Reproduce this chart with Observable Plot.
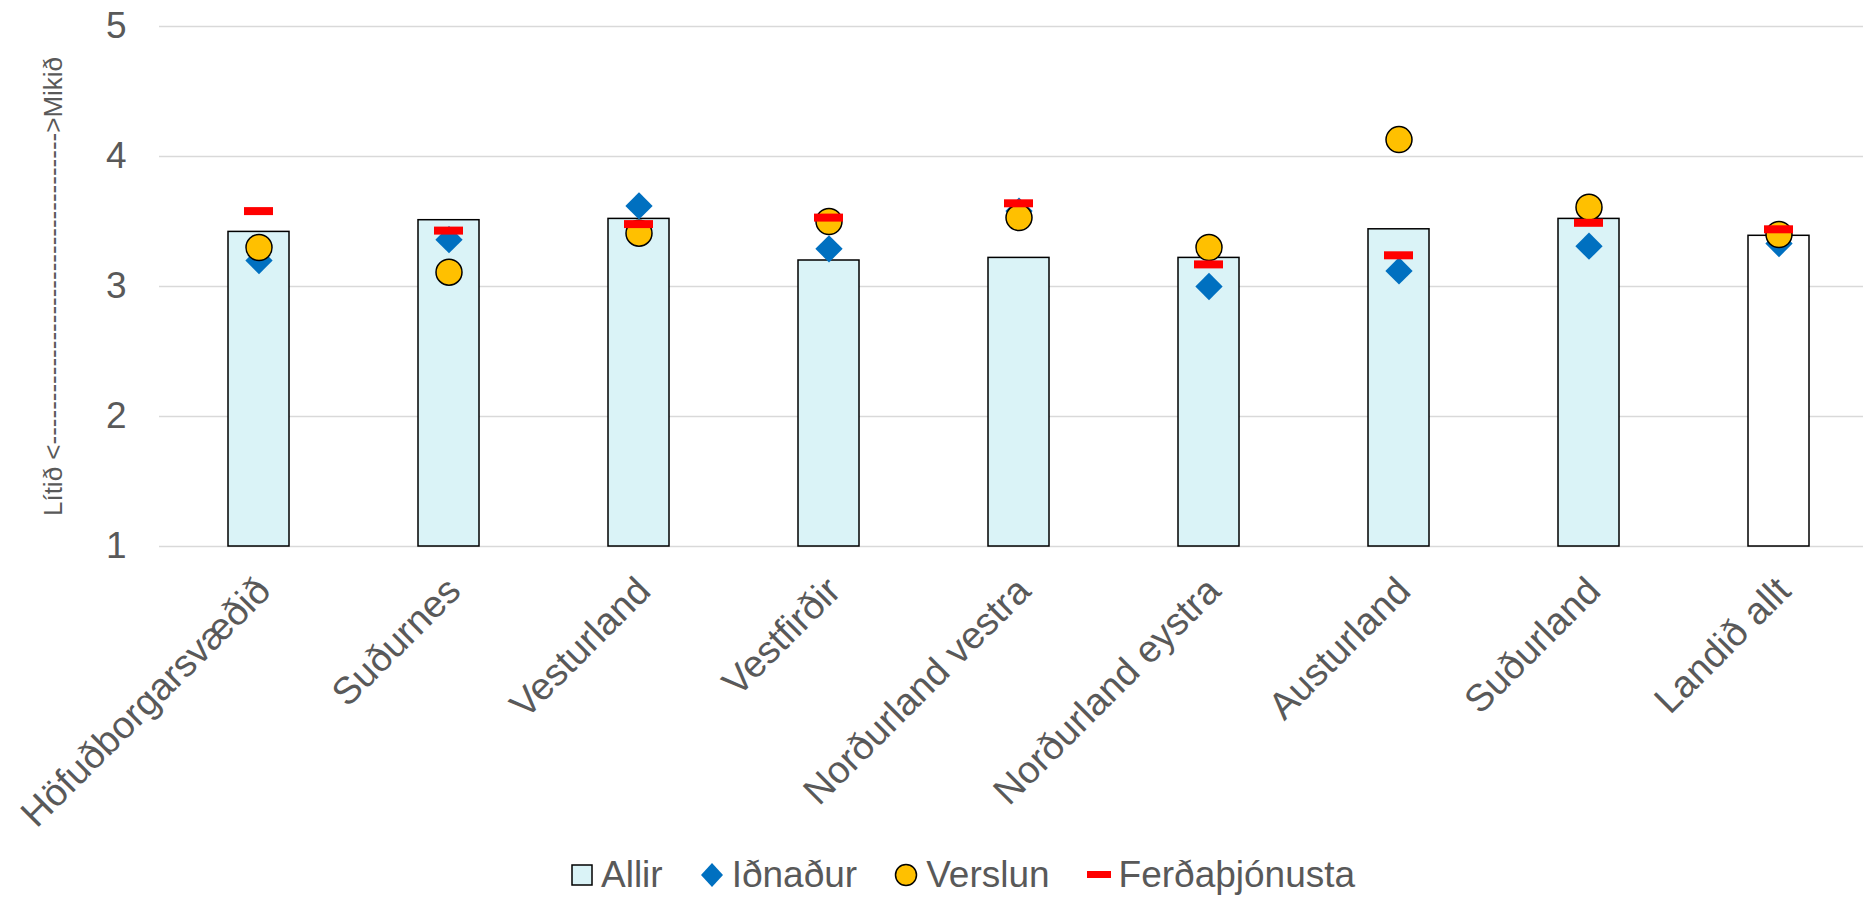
<!DOCTYPE html>
<html>
<head>
<meta charset="utf-8">
<script src="https://cdn.jsdelivr.net/npm/d3@7"></script>
<script src="https://cdn.jsdelivr.net/npm/@observablehq/plot@0.6"></script>
<style>
  body { margin: 0; background: #fff; font-family: "Liberation Sans", Arial, sans-serif; }
  #wrap { position: relative; width: 1863px; height: 897px; }
  #legend { position: absolute; left: 571px; top: 856px; display: flex; align-items: center;
            font-size: 37px; line-height: 37px; color: #595959; white-space: nowrap; }
  .item { display: flex; align-items: center; margin-right: 37px; }
  .item svg { margin-right: 8px; }
</style>
</head>
<body>
<div id="wrap"><div id="chart"></div><div id="legend"></div></div>
<script>
const regions = ["Höfuðborgarsvæðið","Suðurnes","Vesturland","Vestfirðir","Norðurland vestra","Norðurland eystra","Austurland","Suðurland","Landið allt"];
const allir   = [3.42, 3.51, 3.52, 3.20, 3.22, 3.22, 3.44, 3.52, 3.39];
const idnadur = [3.20, 3.36, 3.62, 3.29, 3.58, 3.00, 3.12, 3.31, 3.33];
const verslun = [3.30, 3.11, 3.41, 3.50, 3.53, 3.30, 4.13, 3.61, 3.40];
const ferda   = [3.58, 3.43, 3.48, 3.53, 3.64, 3.17, 3.24, 3.49, 3.44];
const seriesNames = ["Allir", "Iðnaður", "Verslun", "Ferðaþjónusta"];
const yTicks = [1, 2, 3, 4, 5];
const yLabel = "Lítið <" + "-".repeat(36) + ">Mikið";

const rows = regions.map((r, i) => ({region: r, allir: allir[i], idnadur: idnadur[i], verslun: verslun[i], ferda: ferda[i]}));
const cyan = "#daf3f7";

const chart = Plot.plot({
  width: 1863,
  height: 850,
  marginLeft: 159,
  marginRight: 0,
  marginTop: 26,
  marginBottom: 304,
  style: {fontFamily: "'Liberation Sans', Arial, sans-serif", color: "#595959", background: "transparent"},
  x: {type: "band", domain: regions, range: [159, 1877.5], paddingInner: 0.68, paddingOuter: 0.34, axis: null},
  y: {domain: [1, 5], axis: null},
  marks: [
    Plot.ruleY(yTicks, {stroke: "#d9d9d9", strokeWidth: 1.5}),
    Plot.axisY({ticks: yTicks, tickFormat: d => String(d), tickSize: 0, tickPadding: 33, fontSize: 37, label: null, fill: "#595959"}),
    Plot.barY(rows, {x: "region", y1: 1, y2: "allir", fill: d => d.region === "Landið allt" ? "#ffffff" : cyan, stroke: "#000", strokeWidth: 1.5}),
    Plot.dot(rows, {x: "region", y: "idnadur", symbol: "diamond2", r: 12.3, fill: "#0070c0", stroke: "none"}),
    Plot.dot(rows, {x: "region", y: "verslun", symbol: "circle", r: 13, fill: "#ffc000", stroke: "#000", strokeWidth: 1.5}),
    Plot.tickY(rows, {x: "region", y: "ferda", stroke: "#ff0000", strokeWidth: 8, insetLeft: 16, insetRight: 16}),
    Plot.text(regions, {x: d => d, frameAnchor: "bottom", dx: 5, dy: 38, rotate: -45, textAnchor: "end", lineAnchor: "middle", fontSize: 38, fill: "#595959"}),
    Plot.text([yLabel], {frameAnchor: "left", dx: -106, rotate: -90, textAnchor: "middle", lineAnchor: "middle", fontSize: 26, fill: "#595959"})
  ]
});
document.getElementById("chart").appendChild(chart);

// legend
const legend = document.getElementById("legend");
const symbols = [
  `<svg width="22" height="22"><rect x="1" y="1" width="20" height="20" fill="${cyan}" stroke="#000" stroke-width="1.5"/></svg>`,
  `<svg width="24" height="26"><path d="M12 1 L23 13 L12 25 L1 13 Z" fill="#0070c0"/></svg>`,
  `<svg width="24" height="24"><circle cx="12" cy="12" r="10.5" fill="#ffc000" stroke="#000" stroke-width="1.5"/></svg>`,
  `<svg width="24" height="8"><rect x="0" y="0" width="24" height="7" fill="#ff0000"/></svg>`
];
seriesNames.forEach((name, i) => {
  const it = document.createElement("div");
  it.className = "item";
  it.innerHTML = symbols[i] + `<span>${name}</span>`;
  legend.appendChild(it);
});
</script>
</body>
</html>
